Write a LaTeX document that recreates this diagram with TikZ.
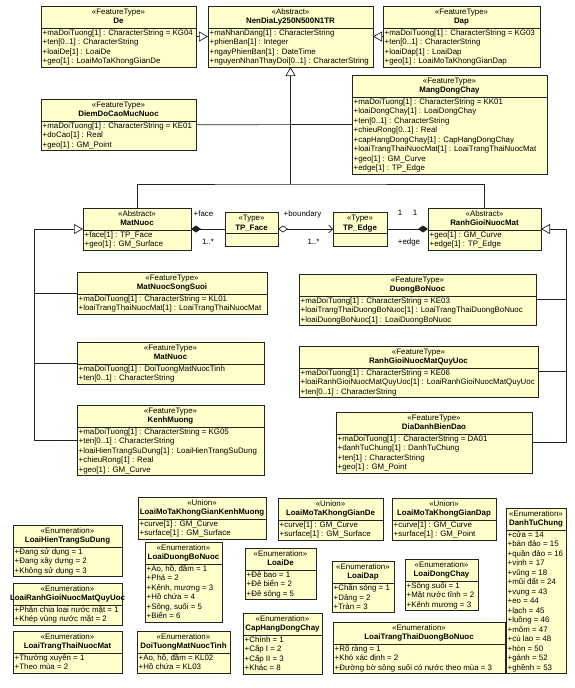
\documentclass[tikz,border=0pt]{standalone}
\usepackage{fontspec}
\setmainfont{Liberation Sans}
\usetikzlibrary{arrows.meta}
\definecolor{clsfill}{RGB}{255,255,204}
\definecolor{clsdraw}{RGB}{35,35,35}
\tikzset{
  clsbox/.style={draw=clsdraw, fill=clsfill, line width=0.7pt, inner sep=0pt, outer sep=0pt, rectangle},
  clsline/.style={draw=clsdraw, line width=0.7pt},
  stereo/.style={font=\fontsize{7.9}{9.5}\selectfont, inner sep=0pt, anchor=base},
  clsname/.style={font=\fontsize{7.9}{9.5}\selectfont\bfseries, inner sep=0pt, anchor=base},
  attr/.style={font=\fontsize{7.9}{9.5}\selectfont, inner sep=0pt, align=left, anchor=north west},
  lbl/.style={font=\fontsize{7.9}{9.5}\selectfont, inner sep=0pt},
  conn/.style={draw=clsdraw, line width=0.7pt},
  gen/.style={conn, -{Triangle[length=9pt,width=10pt,fill=white]}},
  compo/.style={conn, {Diamond[length=10pt,width=7pt]}-},
  aggr/.style={conn, {Diamond[length=10pt,width=7pt,fill=white]}-{Straight Barb[length=4pt,width=8pt]}}
}
% #1 name, #2 left, #3 top, #4 right, #5 number of lines, #6 stereotype, #7 title, #8 attributes
\newcommand\umlcls[8]{%
  \pgfmathsetmacro\cbot{#3+32.5+(#5-1)*9.5}%
  \pgfmathsetmacro\csep{#3+22.5}%
  \pgfmathsetmacro\cmid{(#2+#4)/2}%
  \node[clsbox, minimum width={#4-#2}, minimum height={\cbot-#3}, anchor=north west] (#1) at (#2,#3) {};
  \draw[clsline] (#2,\csep) -- (#4,\csep);
  \node[stereo] at (\cmid,#3+8.8) {«#6»};
  \node[clsname] at (\cmid,#3+17.3) {#7};
  \node[attr] at (#2+1.5,\csep) {\strut #8};
}
% #1 name, #2 left, #3 top, #4 right, #5 title
\newcommand\umltyp[5]{%
  \pgfmathsetmacro\cmid{(#2+#4)/2}%
  \node[clsbox, minimum width={#4-#2}, minimum height=34, anchor=north west] (#1) at (#2,#3) {};
  \draw[clsline] (#2,#3+21) -- (#4,#3+21);
  \node[stereo] at (\cmid,#3+8) {«Type»};
  \node[clsname] at (\cmid,#3+18) {#5};
}
\begin{document}
\begin{tikzpicture}[x=1pt,y=-1pt]
\useasboundingbox (0,0) rectangle (575,688);
\fill[white] (0,0) rectangle (575,688);

% ---------- top row ----------
\umlcls{De}{41}{6}{196}{4}{FeatureType}{De}{+maDoiTuong[1] : CharacterString = KG04\\+ten[0..1] : CharacterString\\+loaiDe[1] : LoaiDe\\+geo[1] : LoaiMoTaKhongGianDe}
\umlcls{NenDiaLy}{208}{6}{373}{4}{Abstract}{NenDiaLy250N500N1TR}{+maNhanDang[1] : CharacterString\\+phienBan[1] : Integer\\+ngayPhienBan[1] : DateTime\\+nguyenNhanThayDoi[0..1] : CharacterString}
\umlcls{Dap}{383}{6}{540}{4}{FeatureType}{Dap}{+maDoiTuong[1] : CharacterString = KG03\\+ten[0..1] : CharacterString\\+loaiDap[1] : LoaiDap\\+geo[1] : LoaiMoTaKhongGianDap}
\umlcls{Diem}{41}{99}{196}{3}{FeatureType}{DiemDoCaoMucNuoc}{+maDoiTuong[1] : CharacterString = KE01\\+doCao[1] : Real\\+geo[1] : GM\_Point}
\umlcls{Mang}{352}{75}{547}{8}{FeatureType}{MangDongChay}{+maDoiTuong[1] : CharacterString = KK01\\+loaiDongChay[1] : LoaiDongChay\\+ten[0..1] : CharacterString\\+chieuRong[0..1] : Real\\+capHangDongChay[1] : CapHangDongChay\\+loaiTrangThaiNuocMat[1] : LoaiTrangThaiNuocMat\\+geo[1] : GM\_Curve\\+edge[1] : TP\_Edge}

% ---------- middle ----------
\umlcls{MatNuocA}{83}{208}{191}{2}{Abstract}{MatNuoc}{+face[1] : TP\_Face\\+geo[1] : GM\_Surface}
\umltyp{TPFace}{225}{212}{278}{TP\_Face}
\umltyp{TPEdge}{333}{212}{387}{TP\_Edge}
\umlcls{RanhGioi}{428}{208}{541}{2}{Abstract}{RanhGioiNuocMat}{+geo[1] : GM\_Curve\\+edge[1] : TP\_Edge}

\umlcls{MNSS}{77}{272}{267}{2}{FeatureType}{MatNuocSongSuoi}{+maDoiTuong[1] : CharacterString = KL01\\+loaiTrangThaiNuocMat[1] : LoaiTrangThaiNuocMat}
\umlcls{DuongBo}{299}{274}{536}{3}{FeatureType}{DuongBoNuoc}{+maDoiTuong[1] : CharacterString = KE03\\+loaiTrangThaiDuongBoNuoc[1] : LoaiTrangThaiDuongBoNuoc\\+loaiDuongBoNuoc[1] : LoaiDuongBoNuoc}
\umlcls{MatNuocFT}{77}{342}{264}{2}{FeatureType}{MatNuoc}{+maDoiTuong[1] : DoiTuongMatNuocTinh\\+ten[0..1] : CharacterString}
\umlcls{RGQU}{299}{346}{538}{3}{FeatureType}{RanhGioiNuocMatQuyUoc}{+maDoiTuong[1] : CharacterString = KE06\\+loaiRanhGioiNuocMatQuyUoc[1] : LoaiRanhGioiNuocMatQuyUoc\\+ten[0..1] : CharacterString}
\umlcls{KenhMuong}{77}{405}{264}{5}{FeatureType}{KenhMuong}{+maDoiTuong[1] : CharacterString = KG05\\+ten[0..1] : CharacterString\\+loaiHienTrangSuDung[1] : LoaiHienTrangSuDung\\+chieuRong[1] : Real\\+geo[1] : GM\_Curve}
\umlcls{DiaDanh}{336}{412}{532}{4}{FeatureType}{DiaDanhBienDao}{+maDoiTuong[1] : CharacterString = DA01\\+danhTuChung[1] : DanhTuChung\\+ten[1] : CharacterString\\+geo[1] : GM\_Point}

% ---------- bottom ----------
\umlcls{UnionKM}{138}{497}{266}{2}{Union}{LoaiMoTaKhongGianKenhMuong}{+curve[1] : GM\_Curve\\+surface[1] : GM\_Surface}
\umlcls{UnionDe}{278}{498}{383}{2}{Union}{LoaiMoTaKhongGianDe}{+curve[1] : GM\_Curve\\+surface[1] : GM\_Surface}
\umlcls{UnionDap}{392}{498}{496}{2}{Union}{LoaiMoTaKhongGianDap}{+curve[1] : GM\_Curve\\+surface[1] : GM\_Point}
\umlcls{DanhTuChung}{506}{508}{566}{15}{Enumeration}{DanhTuChung}{+cửa = 14\\+bán đảo = 15\\+quần đảo = 16\\+vịnh = 17\\+vũng = 18\\+mũi đất = 24\\+vụng = 43\\+eo = 44\\+lạch = 45\\+luồng = 46\\+mõm = 47\\+cù lao = 48\\+hòn = 50\\+gành = 52\\+ghềnh = 53}
\umlcls{LHTSD}{13}{525}{122}{3}{Enumeration}{LoaiHienTrangSuDung}{+Đang sử dụng = 1\\+Đang xây dựng = 2\\+Không sử dụng = 3}
\umlcls{LRGQU}{13}{583}{122}{2}{Enumeration}{LoaiRanhGioiNuocMatQuyUoc}{+Phân chia loại nước mặt = 1\\+Khép vùng nước mặt = 2}
\umlcls{LTTNM}{13}{631}{122}{2}{Enumeration}{LoaiTrangThaiNuocMat}{+Thường xuyên = 1\\+Theo mùa = 2}
\umlcls{LDBN}{145}{542}{222}{6}{Enumeration}{LoaiDuongBoNuoc}{+Ao, hồ, đầm = 1\\+Phá = 2\\+Kênh, mương = 3\\+Hồ chứa = 4\\+Sông, suối = 5\\+Biển = 6}
\umlcls{DTMNT}{137}{631}{230}{2}{Enumeration}{DoiTuongMatNuocTinh}{+Ao, hồ, đầm = KL02\\+Hồ chứa = KL03}
\umlcls{LoaiDe}{245}{548}{316}{3}{Enumeration}{LoaiDe}{+Đê bao = 1\\+Đê biển = 2\\+Đê sông = 5}
\umlcls{CHDC}{243}{613}{322}{4}{Enumeration}{CapHangDongChay}{+Chính = 1\\+Cấp I = 2\\+Cấp II = 3\\+Khác = 8}
\umlcls{LoaiDap}{332}{561}{394}{3}{Enumeration}{LoaiDap}{+Chắn sóng = 1\\+Dâng = 2\\+Tràn = 3}
\umlcls{LoaiDongChay}{405}{559}{478}{3}{Enumeration}{LoaiDongChay}{+Sông suối = 1\\+Mặt nước tĩnh = 2\\+Kênh mương = 3}
\umlcls{LTTDBN}{333}{622}{505}{3}{Enumeration}{LoaiTrangThaiDuongBoNuoc}{+Rõ ràng = 1\\+Khó xác định = 2\\+Đường bờ sông suối có nước theo mùa = 3}

% ---------- connectors ----------
\draw[gen] (De.east) -- (NenDiaLy.west);
\draw[gen] (Dap.west) -- (NenDiaLy.east);
\coordinate (j1) at (NenDiaLy.south |- 0,184);
\draw[gen] (j1) -- (NenDiaLy.south);
\draw[conn] (MatNuocA.north) |- (j1) -| (RanhGioi.north);
\draw[conn] (Diem.east) -- (Mang.west);

\coordinate (t1) at (34,229);
\draw[gen] (t1) -- (MatNuocA.west);
\draw[conn] (MNSS.west) -| (t1);
\draw[conn] (MatNuocFT.west) -| (t1);
\draw[conn] (KenhMuong.west) -| (t1);

\coordinate (t2) at (566,229);
\draw[gen] (t2) -- (RanhGioi.east);
\draw[conn] (DuongBo.east) -| (t2);
\draw[conn] (RGQU.east) -| (t2);
\draw[conn] (DiaDanh.east) -| (t2);

\draw[compo] (MatNuocA.east) -- (TPFace.west);
\draw[aggr] (TPFace.east) -- (TPEdge.west);
\draw[compo] (RanhGioi.west) -- (TPEdge.east);

\node[lbl] (lface) at (203.5,214) {+face};
\node[lbl] (mface) at (208,242) {1..*};
\node[lbl] (lbound) at (302.5,214) {+boundary};
\node[lbl] (mbound) at (313.5,242) {1..*};
\node[lbl] (m1a) at (400,213) {1};
\node[lbl] (m1b) at (415,213) {1};
\node[lbl] (ledge) at (409,242) {+edge};
\end{tikzpicture}
\end{document}
